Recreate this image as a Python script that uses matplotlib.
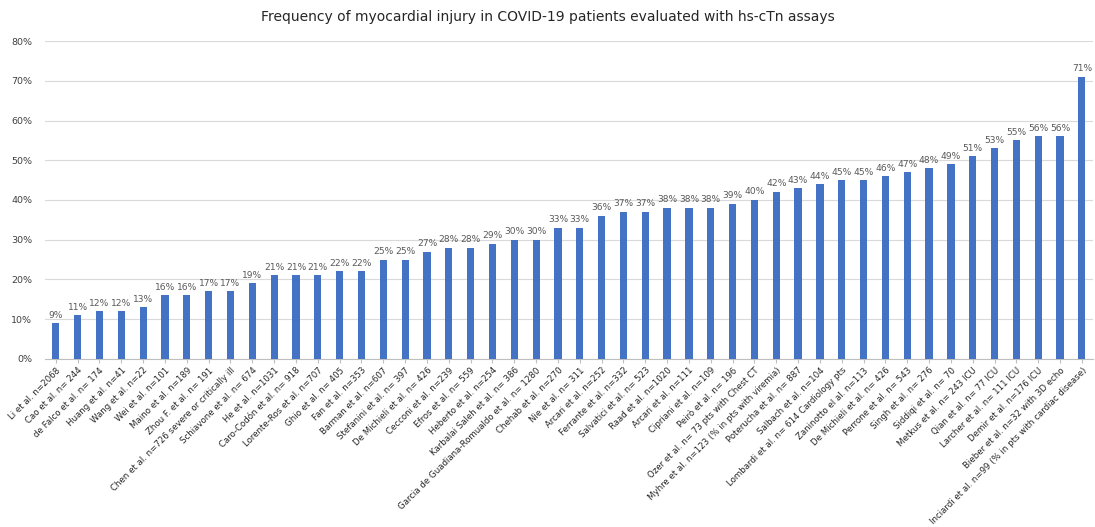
import matplotlib
matplotlib.use("Agg")
import matplotlib.pyplot as plt
from matplotlib.ticker import FuncFormatter

plt.rcParams["font.family"] = ["Liberation Sans Narrow", "DejaVu Sans"]

studies = [
    "Li et al. n=2068", "Cao et al. n= 244", "de Falco et al. n= 174", "Huang et al. n=41",
    "Wang et al. n=22", "Wei et al. n=101", "Maino et al. n=189", "Zhou F. et al. n= 191",
    "Chen et al. n=726 severe or critically ill", "Schiavone et al. n= 674", "He et al. n=1031",
    "Caro-Codón et al. n= 918", "Lorente-Ros et al. n=707", "Ghio et al. n= 405",
    "Fan et al. n=353", "Barman et al. n=607", "Stefanini et al. n= 397",
    "De Michieli et al. n= 426", "Cecconi et al. n=239", "Efros et al. n= 559",
    "Heberto et al. n=254", "Karbalai Saleh et al. n= 386",
    "Garcia de Guadiana-Romualdo et al. n= 1280", "Chehab et al. n=270", "Nie et al. n= 311",
    "Arcari et al. n=252", "Ferrante et al. n=332", "Salvatici et al. n= 523",
    "Raad et al. n=1020", "Arcari et al. n=111", "Cipriani et al. n=109", "Peirò et al. n= 196",
    "Ozer et al. n= 73 pts with Chest CT", "Myhre et al. n=123 (% in pts with viremia)",
    "Poterucha et al. n= 887", "Salbach et al. n=104", "Lombardi et al. n= 614 Cardiology pts",
    "Zaninotto el al. n=113", "De Michieli et al. n= 426", "Perrone et al. n= 543",
    "Singh et al. n= 276", "Siddiqi et al. n= 70", "Metkus et al. n= 243 ICU",
    "Qian et al. n= 77 ICU", "Larcher et al. n= 111 ICU", "Demir et al. n=176 ICU",
    "Bieber et al. n=32 with 3D echo", "Inciardi et al. n=99 (% in pts with cardiac disease)",
]
injury_pct = [9, 11, 12, 12, 13, 16, 16, 17, 17, 19, 21, 21, 21, 22, 22, 25, 25, 27, 28, 28,
              29, 30, 30, 33, 33, 36, 37, 37, 38, 38, 38, 39, 40, 42, 43, 44, 45, 45, 46, 47,
              48, 49, 51, 53, 55, 56, 56, 71]

fig = plt.figure(figsize=(10.95, 5.27), dpi=100)
ax = fig.add_axes([0.041, 0.319, 0.957, 0.603])

x = range(len(studies))
vals = [v / 100 for v in injury_pct]
bars = ax.bar(x, vals, width=0.33, color="#4472C4", zorder=3)

for xi, v in zip(x, injury_pct):
    ax.text(xi, v / 100 + 0.009, f"{v}%", ha="center", va="bottom",
            fontsize=6.6, color="#595959")

ax.set_xlim(-0.5, len(studies) - 0.5)
ax.set_ylim(0, 0.8)
ax.set_yticks([i / 10 for i in range(9)])
ax.yaxis.set_major_formatter(FuncFormatter(lambda v, p: f"{v*100:.0f}%"))
ax.grid(True, axis="y", color="#d9d9d9", lw=0.8, zorder=0)
ax.set_axisbelow(True)

for s in ["top", "right", "left"]:
    ax.spines[s].set_visible(False)
ax.spines["bottom"].set_color("#bfbfbf")

ax.set_xticks(list(x))
ax.set_xticklabels(studies, rotation=45, ha="right", rotation_mode="anchor",
                   fontsize=6.2, color="#262626")
ax.tick_params(axis="x", length=3, color="#bfbfbf", pad=2)
ax.tick_params(axis="y", length=0, labelsize=6.8, labelcolor="#404040", pad=9)

fig.text(0.5, 0.967, "Frequency of myocardial injury in COVID-19 patients evaluated with hs-cTn assays",
         ha="center", va="center", fontsize=10, color="#262626")

fig.savefig("out.png", dpi=100, facecolor="white")
